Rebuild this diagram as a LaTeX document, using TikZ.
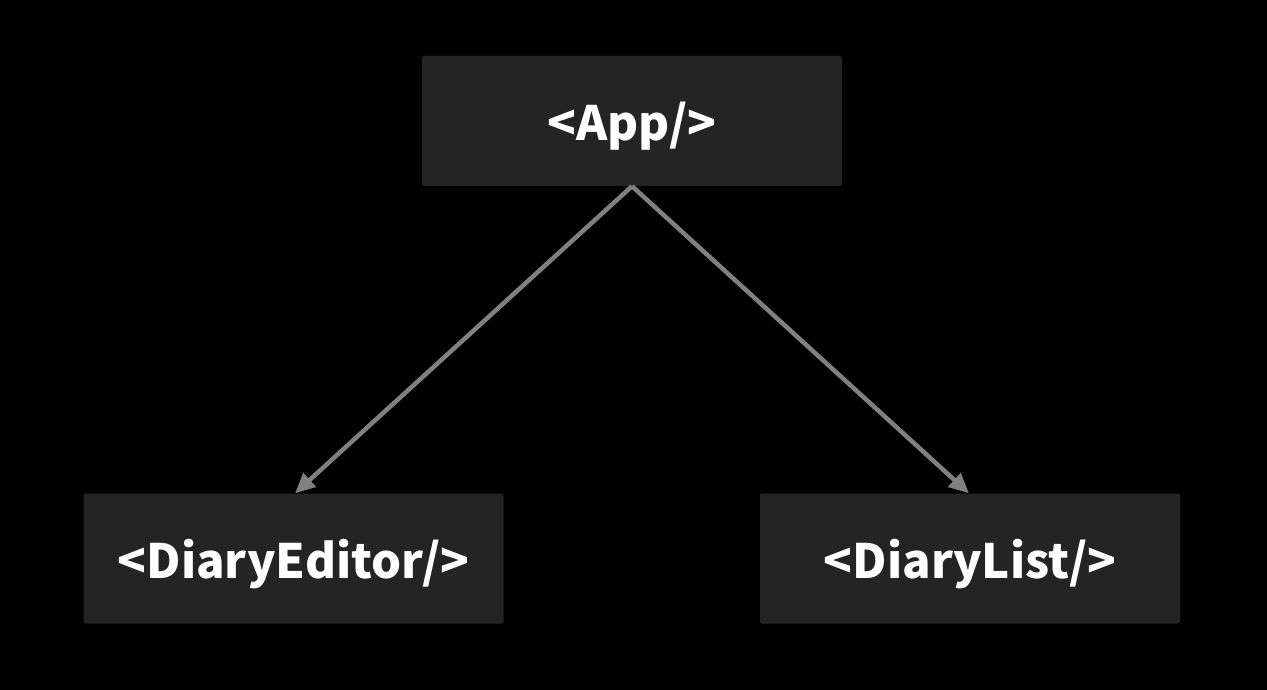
\documentclass[tikz,border=0pt]{standalone}
\usepackage{fontspec}
\setmainfont{Noto Sans CJK KR}
\usetikzlibrary{arrows.meta}
\definecolor{boxfill}{HTML}{242424}
\definecolor{arrowgray}{HTML}{808080}
\tikzset{
  compbox/.style={fill=boxfill, rounded corners=2pt, minimum width=420pt, minimum height=130pt, inner sep=0pt, text height=39pt, text depth=0pt, text=white, font=\fontsize{47.3}{57}\selectfont\bfseries},
  link/.style={draw=arrowgray, line width=4.5pt, -{Triangle[length=20pt,width=18pt]}}
}
\begin{document}
\begin{tikzpicture}[x=1pt,y=-1pt]
\fill[black] (0,0) rectangle (1267,690);
\useasboundingbox (0,0) rectangle (1267,690);
\node[compbox] (app) at (632,121) {<App/>};
\node[compbox] (editor) at (293.5,558.5) {<DiaryEditor/>};
\node[compbox] (list) at (970,558.5) {<DiaryList/>};
\draw[link] (app.south) -- ([xshift=1.5pt]editor.north);
\draw[link] (app.south) -- ([xshift=-1pt]list.north);
\end{tikzpicture}
\end{document}
